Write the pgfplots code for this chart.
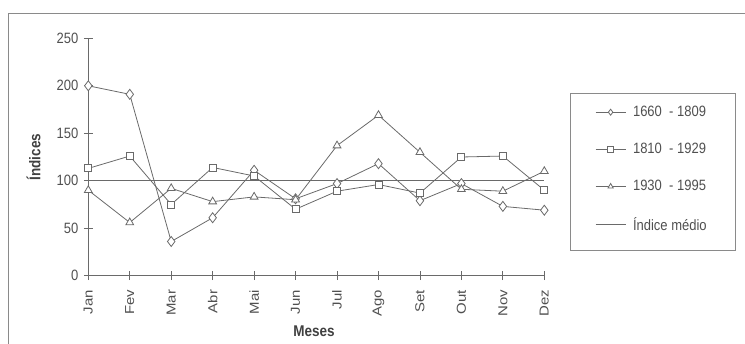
\documentclass[border=0pt]{standalone}
\usepackage{fontspec}
\setmainfont{Liberation Sans}
\usepackage{graphicx}
\usepackage{pgfplots}
\pgfplotsset{compat=1.18}
\definecolor{ln}{HTML}{6A6A6A}
\definecolor{tx}{HTML}{505050}
\definecolor{fr}{HTML}{8A8A8A}
\newcommand{\st}[1]{\scalebox{1}[1.15]{#1}}
\pgfplotstableread{
x d s t
0 200 113 90
1 191 126 56
2 36 75 92
3 61 114 78
4 111 105 83
5 81 70 80
6 97 89 137
7 118 96 169
8 79 87 130
9 97 125 91
10 73 126 89
11 69 90 110
}\datatab
\begin{document}
\begin{tikzpicture}
\useasboundingbox (0bp,0bp) rectangle (745bp,-344bp);
\draw[fr, line width=1bp] (8bp,-360bp) -- (8bp,-13bp) -- (748bp,-13bp);
\draw[fr, line width=0.8bp] (570bp,-93bp) rectangle (735bp,-250bp);
\begin{axis}[
  at={(88.3bp,-275.7bp)}, anchor=south west,
  scale only axis, width=456bp, height=237.4bp,
  xmin=0, xmax=11, ymin=0, ymax=250,
  enlargelimits=false, clip=false,
  axis lines=left, axis line style={ln, line width=0.8bp, -},
  tick align=center, major tick length=9bp,
  tick style={ln, line width=0.8bp},
  xtick={0,...,11},
  xticklabels={Jan,Fev,Mar,Abr,Mai,Jun,Jul,Ago,Set,Out,Nov,Dez},
  ytick={0,50,...,250},
  tick label style={font=\fontsize{13bp}{15bp}\selectfont, text=tx, yscale=1.15},
  xticklabel style={yshift=-5bp, rotate=90, anchor=east},
  yticklabel style={xshift=-2bp},
  /pgf/number format/assume math mode=true,
  xlabel={Meses}, ylabel={Índices},
  label style={font=\bfseries\fontsize{13.5bp}{15bp}\selectfont, text=tx!80!black, yscale=1.15},
  xlabel style={at={(axis description cs:0.495,-0.233)}, anchor=center},
  ylabel style={at={(axis description cs:-0.12,0.5)}, anchor=center},
  legend style={at={(axis description cs:1.063,0.763)}, anchor=north west,
    draw=none, fill=none, text=tx,
    font=\fontsize{13bp}{15bp}\selectfont,
    inner xsep=22bp, inner ysep=9.5bp, row sep=21.2bp,
    /tikz/every odd column/.append style={column sep=5bp},
    legend cell align=left},
  legend image code/.code={%
    \draw[#1, mark repeat=2, mark phase=2, mark size=3bp] plot coordinates {(0bp,0bp) (15bp,0bp) (30bp,0bp)};},
  every axis plot/.append style={ln, line width=0.8bp, mark options={fill=white, solid}},
]
\addplot[mark=diamond*, mark size=5bp] table[x=x, y=d] {\datatab};
\addlegendentry{\st{1660 \ - 1809}}
\addplot[mark=square*, mark size=3.5bp] table[x=x, y=s] {\datatab};
\addlegendentry{\st{1810 \ - 1929}}
\addplot[mark=triangle*, mark size=4.5bp] table[x=x, y=t] {\datatab};
\addlegendentry{\st{1930 \ - 1995}}
\addplot[no marks] coordinates {(0,100) (11,100)};
\addlegendentry{\st{Índice médio}}
\end{axis}
\end{tikzpicture}
\end{document}
